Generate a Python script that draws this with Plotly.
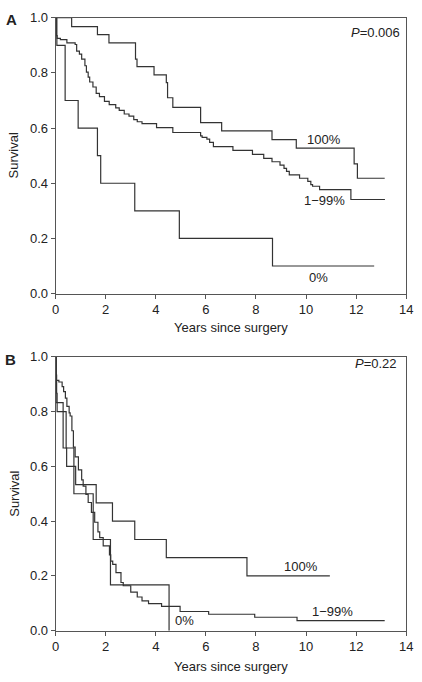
import plotly.graph_objects as go

# ---------------- Data ----------------
# Panel A
a_0_x = [0, 0.05, 0.38, 0.9, 1.67, 1.8, 3.16, 4.94, 8.66, 12.72]
a_0_y = [1.0, 0.9, 0.7, 0.6, 0.5, 0.4, 0.3, 0.2, 0.1, 0.1]

a_mid_x = [0, 0.03, 0.06, 0.19, 0.45, 0.78, 0.84, 0.95, 1.04, 1.17, 1.23, 1.3, 1.36, 1.49, 1.62,
           1.75, 1.95, 2.14, 2.4, 2.54, 2.74, 2.93, 3.12, 3.26, 3.45, 4.03, 4.68, 5.79, 5.85, 6.04,
           6.15, 6.3, 7.08, 7.86, 8.31, 8.64, 8.96, 9.12, 9.22, 9.33, 9.74, 10.07, 10.19, 10.26,
           10.54, 11.79, 13.15]
a_mid_y = [1.0, 0.935, 0.925, 0.921, 0.909, 0.903, 0.879, 0.868, 0.85, 0.826, 0.803, 0.785, 0.767,
           0.749, 0.726, 0.714, 0.697, 0.685, 0.673, 0.664, 0.651, 0.643, 0.631, 0.623, 0.616, 0.602,
           0.584, 0.572, 0.566, 0.56, 0.548, 0.533, 0.519, 0.505, 0.49, 0.478, 0.466, 0.454, 0.443,
           0.43, 0.418, 0.407, 0.395, 0.389, 0.377, 0.341, 0.341]

a_100_x = [0, 0.64, 1.67, 2.13, 3.19, 3.25, 3.93, 4.42, 4.47, 4.68, 5.79, 6.63, 8.64, 9.61, 11.92, 12.05, 13.14]
a_100_y = [1.0, 0.968, 0.939, 0.909, 0.85, 0.823, 0.793, 0.765, 0.71, 0.675, 0.62, 0.59, 0.558, 0.527, 0.47, 0.418, 0.418]

# Panel B
b_0_x = [0, 0.02, 0.3, 0.73, 1.5, 2.19, 4.53]
b_0_y = [1.0, 0.833, 0.667, 0.5, 0.333, 0.167, 0.0]

b_mid_x = [0, 0.02, 0.13, 0.26, 0.32, 0.39, 0.45, 0.54, 0.58, 0.65, 0.71, 0.78, 0.91, 1.04, 1.1,
           1.21, 1.3, 1.43, 1.56, 1.69, 1.76, 1.9, 2.15, 2.2, 2.28, 2.41, 2.61, 2.7, 3.0, 3.26, 3.45,
           3.71, 4.23, 4.97, 6.11, 7.95, 9.64, 13.14]
b_mid_y = [1.0, 0.914, 0.908, 0.891, 0.873, 0.849, 0.819, 0.795, 0.784, 0.73, 0.67, 0.635, 0.587,
           0.551, 0.528, 0.498, 0.468, 0.432, 0.396, 0.361, 0.34, 0.31, 0.277, 0.254, 0.242, 0.212,
           0.176, 0.164, 0.141, 0.123, 0.109, 0.099, 0.089, 0.07, 0.06, 0.049, 0.037, 0.037]

b_100_x = [0, 0.02, 0.04, 0.06, 0.42, 0.44, 0.8, 1.62, 2.27, 3.16, 4.42, 7.64, 10.95]
b_100_y = [1.0, 0.933, 0.867, 0.8, 0.667, 0.6, 0.533, 0.467, 0.4, 0.333, 0.267, 0.2, 0.2]

x_ticks = [0, 2, 4, 6, 8, 10, 12, 14]
y_ticks = [0.0, 0.2, 0.4, 0.6, 0.8, 1.0]

# ---------------- Figure ----------------
W, H = 422, 682
LINE = "#333333"
AXC = "#555555"
FONT = "Liberation Sans, Arial, Helvetica, sans-serif"

fig = go.Figure()

def add(x, y, xa, ya):
    fig.add_trace(go.Scatter(x=x, y=y, mode="lines", line=dict(shape="hv", color=LINE, width=1.2),
                             xaxis=xa, yaxis=ya, showlegend=False, hoverinfo="skip",
                             cliponaxis=False))

add(a_0_x, a_0_y, "x", "y")
add(a_mid_x, a_mid_y, "x", "y")
add(a_100_x, a_100_y, "x", "y")
add(b_0_x, b_0_y, "x2", "y2")
add(b_mid_x, b_mid_y, "x2", "y2")
add(b_100_x, b_100_y, "x2", "y2")

xdom = [53 / W, 413 / W]
ya_dom = [1 - 293 / H, 1 - 11 / H]
yb_dom = [1 - 637.7 / H, 1 - 357.7 / H]

def xaxis(anchor):
    return dict(domain=xdom, anchor=anchor, range=[0, 14], tickvals=x_ticks,
                ticks="outside", ticklen=4, tickcolor=AXC, showline=True, linecolor=AXC,
                linewidth=1, mirror=True, showgrid=False, zeroline=False,
                tickfont=dict(size=13, color="#222"))

def yaxis(dom, anchor):
    return dict(domain=dom, anchor=anchor, range=[0, 1], tickvals=y_ticks, tickformat=".1f",
                ticks="outside", ticklen=4, tickcolor=AXC, showline=True, linecolor=AXC,
                linewidth=1, mirror=True, showgrid=False, zeroline=False,
                tickfont=dict(size=13, color="#222"))

annotations = []

def txt(text, x, y, xref, yref, xanchor="center", size=13, **kw):
    annotations.append(dict(text=text, x=x, y=y, xref=xref, yref=yref, xanchor=xanchor,
                            yanchor="middle", showarrow=False,
                            font=dict(size=size, color="#222", family=FONT), **kw))

# Panel A labels
txt("<i>P</i>=0.006", 13.85, 0.947, "x", "y", xanchor="right")
txt("100%", 10.7, 0.56, "x", "y")
txt("1\u221299%", 10.74, 0.337, "x", "y")
txt("0%", 10.5, 0.06, "x", "y")
# Panel B labels
txt("<i>P</i>=0.22", 13.7, 0.975, "x2", "y2", xanchor="right")
txt("100%", 9.8, 0.235, "x2", "y2")
txt("1\u221299%", 11.05, 0.07, "x2", "y2")
txt("0%", 5.14, 0.038, "x2", "y2")

# Panel letters
txt("<b>A</b>", 8 / W, 1 - 13 / H, "paper", "paper", size=15)
txt("<b>B</b>", 7 / W, 1 - 360 / H, "paper", "paper", size=15)

# Axis titles
txt("Survival", 10 / W, 1 - 152 / H, "paper", "paper", textangle=-90)
txt("Survival", 10 / W, 1 - 498 / H, "paper", "paper", textangle=-90)
txt("Years since surgery", 233 / W, 1 - 328 / H, "paper", "paper")
txt("Years since surgery", 233 / W, 1 - 674 / H, "paper", "paper")

fig.update_layout(
    width=W, height=H,
    margin=dict(l=0, r=0, t=0, b=0),
    paper_bgcolor="white", plot_bgcolor="white",
    font=dict(family=FONT, size=13, color="#222"),
    xaxis=xaxis("y"), yaxis=yaxis(ya_dom, "x"),
    xaxis2=xaxis("y2"), yaxis2=yaxis(yb_dom, "x2"),
    annotations=annotations,
)

post = ("document.body.style.margin='0';document.body.style.padding='0';"
        "document.body.style.overflow='hidden';"
        "document.documentElement.style.overflow='hidden';")

fig.write_html("out.html", config={"displayModeBar": False}, post_script=post)
